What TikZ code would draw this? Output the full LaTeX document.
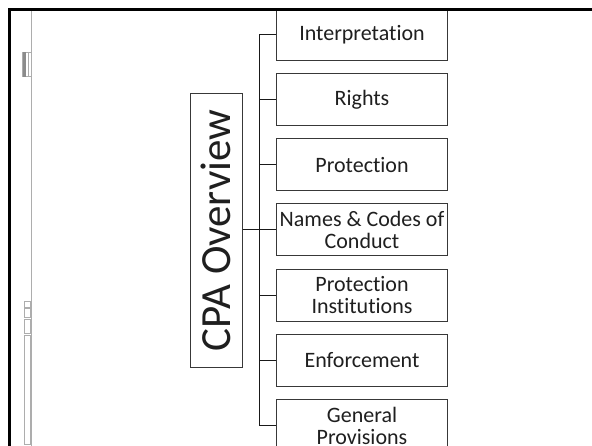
\documentclass[tikz,border=0pt]{standalone}
\usepackage{fontspec}
\setmainfont{Carlito}[RawFeature={-liga;-clig;-calt;-dlig}]
\begin{document}
\begin{tikzpicture}[x=1pt,y=1pt,
  topic/.style={draw=black!78, line width=1pt, text=black!88,
    minimum width=171.4pt, minimum height=52pt, inner sep=0pt, align=center,
    font=\fontsize{22}{22}\selectfont},
  titlebox/.style={draw=black!78, line width=1pt, text=black!88,
    minimum width=52.3pt, minimum height=274.4pt, inner sep=0pt,
    font=\fontsize{43}{43}\selectfont},
  link/.style={draw=black!90, line width=1pt},
  sidebar/.style={draw=black!32, line width=0.8pt}]
\clip (0,0) rectangle (592,446);
\fill[white] (0,0) rectangle (592,446);

% side rail with its small handles
\draw[sidebar] (31.2,436) -- (31.2,-5);
\draw[sidebar] (22.6,394) rectangle (31.2,369.3);
\fill[black!45] (22.6,394) rectangle (25.6,369.3);
\draw[sidebar] (27.9,394) -- (27.9,369.3);
\draw[sidebar] (24,144.3) rectangle (30,138.7);
\draw[sidebar] (24,137.7) rectangle (30,128.7);
\draw[sidebar] (24,127) rectangle (30,112.3);
\draw[sidebar] (24,111) rectangle (30,2);

% title
\node[titlebox] (cpa) at (216.15,215.5) {\rotatebox{90}{CPA Overview}};

% topics
\node[topic] (b1) at (362,411.7) {Interpretation};
\node[topic] (b2) at (362,346.5) {Rights};
\node[topic] (b3) at (362,281.3) {Protection};
\node[topic] (b4) at (362,216.1) {Names \& Codes of\\Conduct};
\node[topic] (b5) at (362,150.9) {Protection\\Institutions};
\node[topic] (b6) at (362,85.7) {Enforcement};
\node[topic] (b7) at (362,20.5) {General\\Provisions};

% bracket connectors
\coordinate (bus) at (259.3,0);
\draw[link] (bus |- b1.west) -- (bus |- b7.west);
\foreach \i in {1,...,7}
  \draw[link] (bus |- b\i.west) -- (b\i.west);
\draw[link] (cpa.east |- b4.west) -- (bus |- b4.west);

% slide frame, drawn last so it lies on top
\draw[line width=3pt] (9,436) rectangle (620,-20);
\end{tikzpicture}
\end{document}
